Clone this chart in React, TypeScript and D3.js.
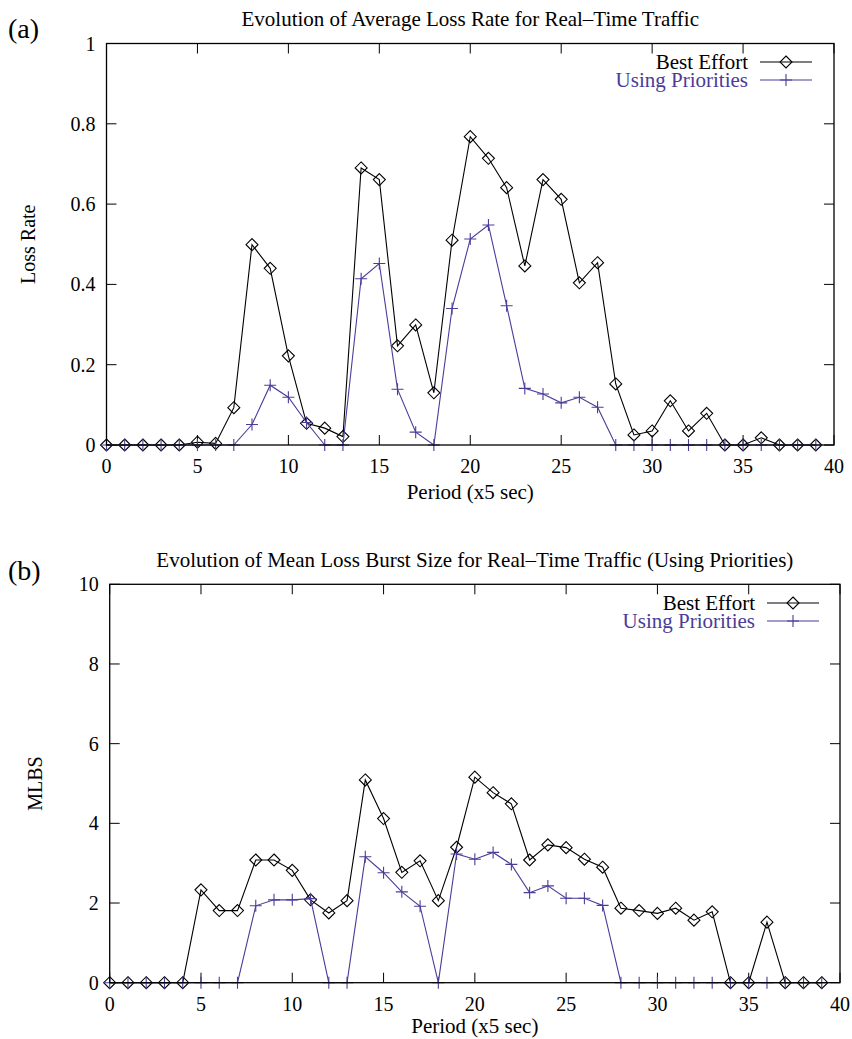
import React from 'react'
import * as d3 from 'd3'

const periods = d3.range(0, 40)

const lossBestEffort = [0, 0, 0, 0, 0, 0.007, 0.004, 0.093, 0.499, 0.44, 0.222, 0.054, 0.042, 0.021, 0.69, 0.661, 0.247, 0.299, 0.13, 0.51, 0.768, 0.714, 0.641, 0.446, 0.661, 0.612, 0.404, 0.454, 0.152, 0.025, 0.035, 0.11, 0.035, 0.079, 0, 0, 0.018, 0, 0, 0]
const lossPriorities = [0, 0, 0, 0, 0, 0, 0, 0, 0.051, 0.149, 0.119, 0.056, 0, 0, 0.414, 0.452, 0.139, 0.032, 0, 0.34, 0.513, 0.548, 0.347, 0.141, 0.127, 0.105, 0.119, 0.094, 0, 0, 0, 0, 0, 0, 0, 0, 0, 0, 0, 0]

const mlbsBestEffort = [0, 0, 0, 0, 0, 2.33, 1.81, 1.81, 3.08, 3.08, 2.82, 2.08, 1.75, 2.06, 5.09, 4.12, 2.77, 3.06, 2.06, 3.4, 5.16, 4.77, 4.49, 3.08, 3.46, 3.39, 3.1, 2.9, 1.87, 1.81, 1.74, 1.87, 1.57, 1.78, 0, 0, 1.52, 0, 0, 0]
const mlbsPriorities = [0, 0, 0, 0, 0, 0, 0, 0, 1.93, 2.08, 2.08, 2.11, 0, 0, 3.16, 2.76, 2.28, 1.92, 0, 3.23, 3.1, 3.27, 2.97, 2.26, 2.43, 2.12, 2.12, 1.94, 0, 0, 0, 0, 0, 0, 0, 0, 0, 0, 0, 0]

const xTicks = [0, 5, 10, 15, 20, 25, 30, 35, 40]
const lossTicks = [0, 0.2, 0.4, 0.6, 0.8, 1]
const mlbsTicks = [0, 2, 4, 6, 8, 10]
const seriesNames = ['Best Effort', 'Using Priorities']

const BLACK = '#000'
const PURPLE = '#4a3c98'
const FONT = '"Liberation Serif", "Times New Roman", serif'

const Diamond = ({ x, y, color }: { x: number; y: number; color: string }) => (
  <path d={`M${x},${y - 6}L${x + 6},${y}L${x},${y + 6}L${x - 6},${y}Z`} fill="none" stroke={color} strokeWidth={1.1} />
)

const Plus = ({ x, y, color }: { x: number; y: number; color: string }) => (
  <path d={`M${x - 6},${y}H${x + 6}M${x},${y - 6}V${y + 6}`} fill="none" stroke={color} strokeWidth={1.1} />
)

type ChartProps = {
  left: number
  right: number
  top: number
  bottom: number
  yMax: number
  yTicks: number[]
  yLabel: string
  yLabelX: number
  title: string
  titleY: number
  tag: string
  tagY: number
  xLabelY: number
  legendTextX: number
  legendY: number
  best: number[]
  prio: number[]
}

const Chart = (p: ChartProps) => {
  const x = d3.scaleLinear().domain([0, 40]).range([p.left, p.right])
  const y = d3.scaleLinear().domain([0, p.yMax]).range([p.bottom, p.top])
  const line = d3.line<number>().x((_, i) => x(periods[i])).y((d) => y(d))
  const tick = 10
  const legendLine0 = p.legendTextX + 12
  const legendLine1 = legendLine0 + 52
  const legendMid = (legendLine0 + legendLine1) / 2
  const rowGap = 18
  return (
    <g fontFamily={FONT}>
      <text x={8} y={p.tagY} fontSize={28}>{p.tag}</text>
      <text x={(p.left + p.right) / 2} y={p.titleY} fontSize={21} textAnchor="middle">{p.title}</text>
      <text transform={`translate(${p.yLabelX},${(p.top + p.bottom) / 2}) rotate(-90)`} fontSize={20} textAnchor="middle">{p.yLabel}</text>
      <text x={(p.left + p.right) / 2} y={p.xLabelY} fontSize={21} textAnchor="middle">Period (x5 sec)</text>

      {xTicks.map((t) => (
        <g key={'x' + t}>
          <line x1={x(t)} x2={x(t)} y1={p.bottom} y2={p.bottom - tick} stroke={BLACK} />
          <line x1={x(t)} x2={x(t)} y1={p.top} y2={p.top + tick} stroke={BLACK} />
          <text x={x(t)} y={p.bottom + 28} fontSize={20} textAnchor="middle">{t}</text>
        </g>
      ))}
      {p.yTicks.map((t) => (
        <g key={'y' + t}>
          <line x1={p.left} x2={p.left + tick} y1={y(t)} y2={y(t)} stroke={BLACK} />
          <line x1={p.right} x2={p.right - tick} y1={y(t)} y2={y(t)} stroke={BLACK} />
          <text x={p.left - 11} y={y(t)} dy="0.35em" fontSize={20} textAnchor="end">{String(t)}</text>
        </g>
      ))}

      <path d={line(p.best) || ''} fill="none" stroke={BLACK} strokeWidth={1.1} />
      {p.best.map((d, i) => <Diamond key={'b' + i} x={x(periods[i])} y={y(d)} color={BLACK} />)}
      <path d={line(p.prio) || ''} fill="none" stroke={PURPLE} strokeWidth={1.1} />
      {p.prio.map((d, i) => <Plus key={'p' + i} x={x(periods[i])} y={y(d)} color={PURPLE} />)}

      <rect x={p.left} y={p.top} width={p.right - p.left} height={p.bottom - p.top} fill="none" stroke={BLACK} strokeWidth={1.3} />

      <text x={p.legendTextX} y={p.legendY} dy="0.35em" fontSize={21} textAnchor="end" fill={BLACK}>{seriesNames[0]}</text>
      <line x1={legendLine0} x2={legendLine1} y1={p.legendY} y2={p.legendY} stroke={BLACK} strokeWidth={1.1} />
      <Diamond x={legendMid} y={p.legendY} color={BLACK} />
      <text x={p.legendTextX} y={p.legendY + rowGap} dy="0.35em" fontSize={21} textAnchor="end" fill={PURPLE}>{seriesNames[1]}</text>
      <line x1={legendLine0} x2={legendLine1} y1={p.legendY + rowGap} y2={p.legendY + rowGap} stroke={PURPLE} strokeWidth={1.1} />
      <Plus x={legendMid} y={p.legendY + rowGap} color={PURPLE} />
    </g>
  )
}

export default function App() {
  return (
    <svg width={852} height={1039} style={{ position: 'absolute', left: 0, top: 0, background: '#fff' }}>
      <rect width={852} height={1039} fill="#fff" />
      <Chart
        left={106.5} right={834} top={43.5} bottom={445}
        yMax={1} yTicks={lossTicks}
        yLabel="Loss Rate" yLabelX={35}
        title="Evolution of Average Loss Rate for Real–Time Traffic" titleY={26}
        tag="(a)" tagY={38}
        xLabelY={499}
        legendTextX={748} legendY={62}
        best={lossBestEffort} prio={lossPriorities}
      />
      <Chart
        left={109.7} right={840} top={584.3} bottom={982.7}
        yMax={10} yTicks={mlbsTicks}
        yLabel="MLBS" yLabelX={42}
        title="Evolution of Mean Loss Burst Size for Real–Time Traffic (Using Priorities)" titleY={567}
        tag="(b)" tagY={580}
        xLabelY={1033}
        legendTextX={755} legendY={603}
        best={mlbsBestEffort} prio={mlbsPriorities}
      />
    </svg>
  )
}
